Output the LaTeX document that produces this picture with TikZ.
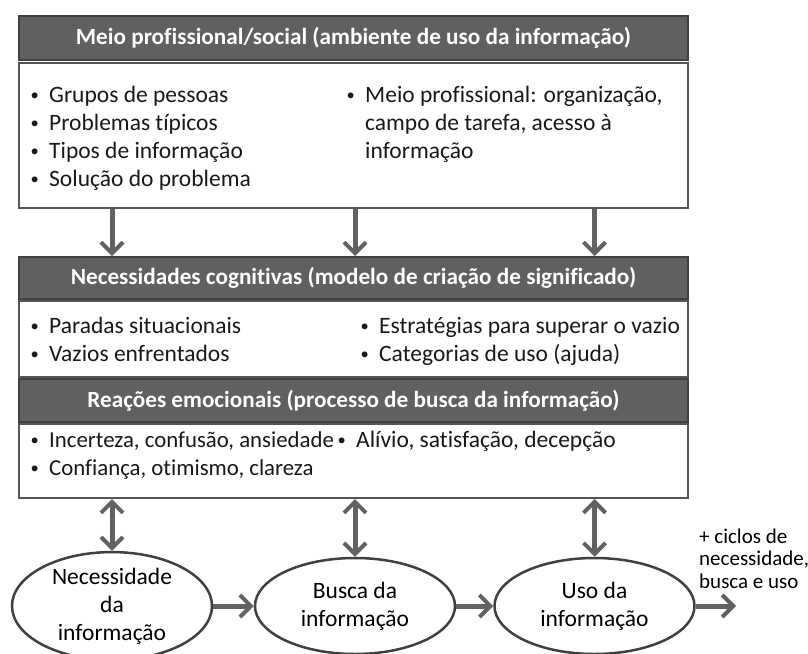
\documentclass[tikz,border=0pt]{standalone}
\usepackage{fontspec}
\setmainfont{Carlito}[Ligatures=NoCommon]
\usetikzlibrary{arrows.meta,shapes.geometric}
\definecolor{hdr}{HTML}{606060}
\definecolor{hdrline}{HTML}{404040}
\definecolor{boxline}{HTML}{555555}
\definecolor{arr}{HTML}{626262}
\newcommand{\itm}{\makebox[20pt][l]{\hspace*{1.5pt}\raisebox{1.8pt}{\fontsize{16.5}{16.5}\selectfont •}}}
\newcommand{\ind}{\hspace*{20pt}}
\begin{document}
\begin{tikzpicture}[x=1pt,y=-1pt,
  hdrbox/.style={draw=hdrline, fill=hdr, line width=2pt, text=white,
    font=\bfseries\fontsize{23.2}{26}\selectfont, minimum width=669pt, inner sep=0pt},
  bodybox/.style={draw=boxline, fill=white, line width=2pt, minimum width=669pt, inner sep=0pt},
  itemtext/.style={anchor=base west, inner sep=0pt, text=black!90,
    font=\fontsize{23.5}{28}\selectfont},
  oval/.style={ellipse, draw=hdrline, line width=2.5pt, fill=white, minimum width=200pt,
    minimum height=96pt, inner sep=0pt, align=center, font=\fontsize{23.5}{28}\selectfont},
  flow/.style={draw=arr, line width=5pt, -{Straight Barb[length=11pt,width=22pt,line width=4pt]}},
  flowboth/.style={draw=arr, line width=5pt, {Straight Barb[length=11pt,width=22pt,line width=4pt]}-{Straight Barb[length=11pt,width=22pt,line width=4pt]}}
]
\useasboundingbox (0,0) rectangle (808,653);

% boxes
\node[hdrbox, minimum height=44pt] (h1) at (353.5,38) {Meio profissional/social (ambiente de uso da informação)};
\node[bodybox, minimum height=145pt] (b1) at (353.5,135.5) {};
\node[hdrbox, minimum height=42pt] (h2) at (353.5,278) {Necessidades cognitivas (modelo de criação de significado)};
\node[bodybox, minimum height=76pt] (b2) at (353.5,339) {};
\node[hdrbox, minimum height=43pt] (h3) at (353.5,400.5) {Reações emocionais (processo de busca da informação)};
\node[bodybox, minimum height=74pt] (b3) at (353.5,461) {};

% body texts
\node[itemtext] (t1a) at (29,102) {\begin{tabular}[t]{@{}l@{}}\itm Grupos de pessoas\\\itm Problemas típicos\\\itm Tipos de informação\\\itm Solução do problema\end{tabular}};
\node[itemtext] (t1b) at (345,102) {\begin{tabular}[t]{@{}l@{}}\itm Meio profissional: organização,\\\ind campo de tarefa, acesso à\\\ind informação\end{tabular}};
\node[itemtext] (t2a) at (29,333) {\begin{tabular}[t]{@{}l@{}}\itm Paradas situacionais\\\itm Vazios enfrentados\end{tabular}};
\node[itemtext] (t2b) at (359,333) {\begin{tabular}[t]{@{}l@{}}\itm Estratégias para superar o vazio\\\itm Categorias de uso (ajuda)\end{tabular}};
\node[itemtext, font=\fontsize{22.8}{28}\selectfont] (t3a) at (29,447) {\begin{tabular}[t]{@{}l@{}}\itm Incerteza, confusão, ansiedade\\\itm Confiança, otimismo, clareza\end{tabular}};
\node[itemtext] (t3b) at (336,447) {\begin{tabular}[t]{@{}l@{}}\itm Alívio, satisfação, decepção\end{tabular}};

% ellipses
\node[oval] (e1) at (112,606) {Necessidade\\da\\informação};
\node[oval] (e2) at (355,606) {Busca da\\informação};
\node[oval] (e3) at (594.5,606) {Uso da\\informação};
\coordinate (endc) at (736,606);
\node[anchor=base west, inner sep=0pt, font=\fontsize{21}{22.5}\selectfont] (more) at (699,543) {\begin{tabular}[t]{@{}l@{}}+ ciclos de\\necessidade,\\busca e uso\end{tabular}};

% arrows
\draw[flow] (b1.south -| e1) -- (h2.north -| e1);
\draw[flow] (b1.south -| e2) -- (h2.north -| e2);
\draw[flow] (b1.south -| e3) -- (h2.north -| e3);
\draw[flowboth] (b3.south -| e1) -- (e1.north);
\draw[flowboth] (b3.south -| e2) -- (e2.north);
\draw[flowboth] (b3.south -| e3) -- (e3.north);
\draw[flow] (e1.east) -- (e2.west);
\draw[flow] (e2.east) -- (e3.west);
\draw[flow] (e3.east) -- (endc);
\end{tikzpicture}
\end{document}
